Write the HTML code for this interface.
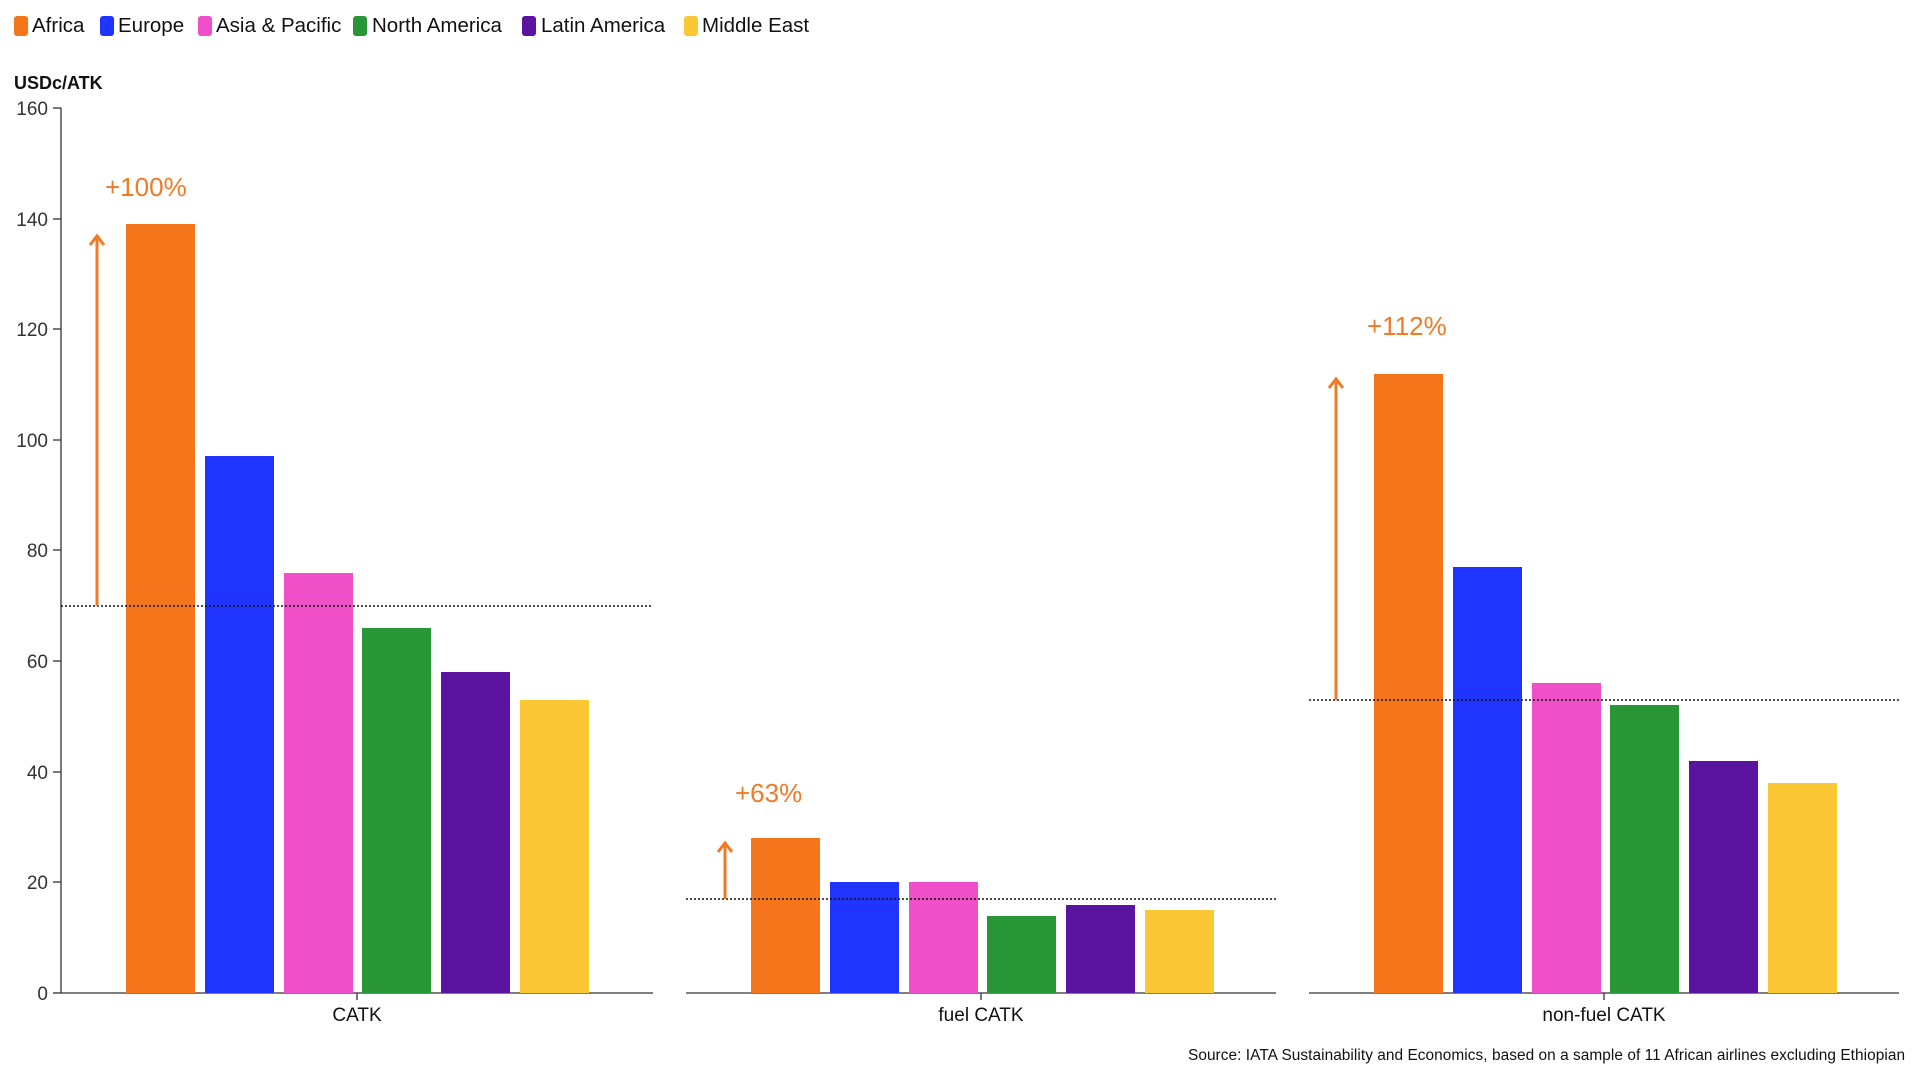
<!DOCTYPE html><html><head><style>body{margin:0;background:#fff}svg{display:block}text{font-family:"Liberation Sans",sans-serif}</style></head><body>
<svg width="1920" height="1080" xmlns="http://www.w3.org/2000/svg">
<g font-size="20.5" fill="#111">
<rect x="14" y="16" width="14" height="20" rx="3" fill="#f5761a"/><text x="32" y="32">Africa</text>
<rect x="100" y="16" width="14" height="20" rx="3" fill="#1f35ff"/><text x="118" y="32">Europe</text>
<rect x="198" y="16" width="14" height="20" rx="3" fill="#ef50c8"/><text x="216" y="32">Asia &amp; Pacific</text>
<rect x="353" y="16" width="14" height="20" rx="3" fill="#289636"/><text x="372" y="32">North America</text>
<rect x="522" y="16" width="14" height="20" rx="3" fill="#5a14a0"/><text x="541" y="32">Latin America</text>
<rect x="684" y="16" width="14" height="20" rx="3" fill="#f9c834"/><text x="702" y="32">Middle East</text>
</g>
<text x="14" y="89" font-size="18" font-weight="bold" fill="#111">USDc/ATK</text>
<g font-size="19" fill="#333" text-anchor="end">
<text x="48" y="115">160</text><text x="48" y="226">140</text><text x="48" y="336">120</text><text x="48" y="447">100</text><text x="48" y="557">80</text><text x="48" y="668">60</text><text x="48" y="779">40</text><text x="48" y="889">20</text><text x="48" y="1000">0</text>
</g>
<g stroke="#333" stroke-width="1.3">
<line x1="61" y1="108" x2="61" y2="993"/>
<line x1="53" y1="108" x2="61" y2="108"/><line x1="53" y1="219" x2="61" y2="219"/><line x1="53" y1="329" x2="61" y2="329"/><line x1="53" y1="440" x2="61" y2="440"/><line x1="53" y1="550" x2="61" y2="550"/><line x1="53" y1="661" x2="61" y2="661"/><line x1="53" y1="772" x2="61" y2="772"/><line x1="53" y1="882" x2="61" y2="882"/><line x1="53" y1="993" x2="61" y2="993"/>
<line x1="61" y1="993" x2="653" y2="993"/><line x1="686" y1="993" x2="1276" y2="993"/><line x1="1309" y1="993" x2="1899" y2="993"/>
<line x1="357" y1="993" x2="357" y2="1000"/><line x1="981" y1="993" x2="981" y2="1000"/><line x1="1604" y1="993" x2="1604" y2="1000"/>
</g>
<g>
<rect x="126" y="224" width="69" height="769" fill="#f5761a"/>
<rect x="205" y="456" width="69" height="537" fill="#1f35ff"/>
<rect x="284" y="573" width="69" height="420" fill="#ef50c8"/>
<rect x="362" y="628" width="69" height="365" fill="#289636"/>
<rect x="441" y="672" width="69" height="321" fill="#5a14a0"/>
<rect x="520" y="700" width="69" height="293" fill="#f9c834"/>

<rect x="751" y="838" width="69" height="155" fill="#f5761a"/>
<rect x="830" y="882" width="69" height="111" fill="#1f35ff"/>
<rect x="909" y="882" width="69" height="111" fill="#ef50c8"/>
<rect x="987" y="916" width="69" height="77" fill="#289636"/>
<rect x="1066" y="905" width="69" height="88" fill="#5a14a0"/>
<rect x="1145" y="910" width="69" height="83" fill="#f9c834"/>

<rect x="1374" y="374" width="69" height="619" fill="#f5761a"/>
<rect x="1453" y="567" width="69" height="426" fill="#1f35ff"/>
<rect x="1532" y="683" width="69" height="310" fill="#ef50c8"/>
<rect x="1610" y="705" width="69" height="288" fill="#289636"/>
<rect x="1689" y="761" width="69" height="232" fill="#5a14a0"/>
<rect x="1768" y="783" width="69" height="210" fill="#f9c834"/>
</g>
<g stroke="#111" stroke-width="1.5" stroke-dasharray="2,2">
<line x1="61" y1="606" x2="653" y2="606"/>
<line x1="686" y1="899" x2="1276" y2="899"/>
<line x1="1309" y1="700" x2="1899" y2="700"/>
</g>
<g stroke="#ef7a28" stroke-width="3" fill="none">
<line x1="97" y1="606" x2="97" y2="236"/><polyline points="90,245 97,236 104,245"/>
<line x1="725" y1="899" x2="725" y2="843"/><polyline points="718,852 725,843 732,852"/>
<line x1="1336" y1="700" x2="1336" y2="379"/><polyline points="1329,388 1336,379 1343,388"/>
</g>
<g font-size="26" fill="#ef7a28">
<text x="105" y="196">+100%</text><text x="735" y="802">+63%</text><text x="1367" y="335">+112%</text>
</g>
<g font-size="19" fill="#111" text-anchor="middle">
<text x="357" y="1021">CATK</text><text x="981" y="1021">fuel CATK</text><text x="1604" y="1021">non-fuel CATK</text>
</g>
<text x="1905" y="1060" font-size="15.4" fill="#111" text-anchor="end" textLength="717">Source: IATA Sustainability and Economics, based on a sample of 11 African airlines excluding Ethiopian</text>
</svg></body></html>
